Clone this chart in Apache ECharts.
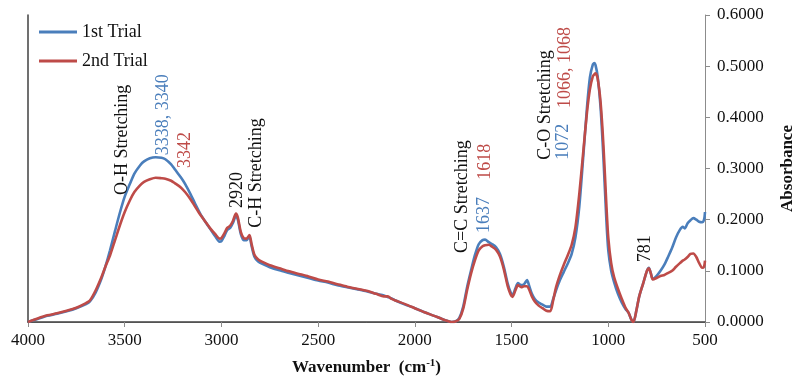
<!DOCTYPE html>
<html>
<head>
<meta charset="utf-8">
<script src="https://cdn.jsdelivr.net/npm/echarts@6/dist/echarts.min.js"></script>
<style>
  html, body { margin: 0; padding: 0; background: #ffffff; }
  #chart { width: 795px; height: 379px; }
</style>
</head>
<body>
<div id="chart"></div>
<script>
// FTIR absorbance spectra of two trials (wavenumber in cm-1)
const wavenumbers = [
  4000, 3950, 3900, 3850, 3800, 3750, 3700, 3680, 3650, 3620, 3600, 3576, 3550, 3524, 3500,
  3473, 3450, 3421, 3400, 3370, 3340, 3310, 3290, 3260, 3240, 3210, 3188, 3160, 3137, 3110,
  3085, 3060, 3033, 3010, 3000, 2985, 2970, 2955, 2940, 2925, 2915, 2900, 2885, 2870, 2855,
  2845, 2830, 2810, 2780, 2750, 2700, 2650, 2600, 2550, 2500, 2450, 2400, 2350, 2300, 2250,
  2200, 2160, 2140, 2120, 2100, 2050, 2000, 1950, 1900, 1860, 1830, 1810, 1790, 1770, 1750,
  1730, 1710, 1690, 1670, 1650, 1637, 1618, 1600, 1580, 1560, 1540, 1520, 1505, 1495, 1480,
  1467, 1450, 1435, 1420, 1410, 1395, 1380, 1360, 1340, 1320, 1300, 1285, 1270, 1250, 1230,
  1210, 1190, 1170, 1150, 1130, 1110, 1095, 1080, 1072, 1066, 1055, 1040, 1025, 1010, 1000,
  985, 970, 950, 930, 910, 895, 880, 870, 855, 840, 820, 800, 790, 780, 770,
  750, 730, 710, 690, 670, 650, 630, 615, 605, 590, 575, 560, 545, 530, 515,
  505, 500
];

const trial1 = [
  0.000, 0.006, 0.012, 0.016, 0.021, 0.027, 0.035, 0.040, 0.058, 0.085, 0.108, 0.140, 0.178, 0.215, 0.245,
  0.270, 0.290, 0.306, 0.314, 0.320, 0.322, 0.321, 0.318, 0.308, 0.298, 0.283, 0.270, 0.250, 0.232, 0.212,
  0.197, 0.183, 0.168, 0.157, 0.158, 0.168, 0.180, 0.184, 0.194, 0.208, 0.200, 0.172, 0.160, 0.160, 0.167,
  0.150, 0.128, 0.118, 0.112, 0.107, 0.101, 0.096, 0.091, 0.086, 0.081, 0.077, 0.072, 0.068, 0.064, 0.060,
  0.055, 0.052, 0.049, 0.046, 0.042, 0.034, 0.027, 0.019, 0.012, 0.006, 0.002, 0.000, 0.001, 0.008, 0.030,
  0.068, 0.100, 0.130, 0.152, 0.160, 0.161, 0.156, 0.152, 0.146, 0.133, 0.108, 0.075, 0.058, 0.052, 0.066,
  0.076, 0.072, 0.074, 0.082, 0.072, 0.055, 0.045, 0.038, 0.034, 0.030, 0.030, 0.045, 0.062, 0.082, 0.098,
  0.114, 0.132, 0.165, 0.225, 0.320, 0.420, 0.478, 0.503, 0.506, 0.502, 0.480, 0.420, 0.320, 0.200, 0.140,
  0.100, 0.078, 0.055, 0.038, 0.025, 0.018, 0.004, 0.000, 0.022, 0.050, 0.075, 0.100, 0.106, 0.095, 0.084,
  0.090, 0.100, 0.112, 0.128, 0.145, 0.165, 0.180, 0.186, 0.183, 0.193, 0.199, 0.203, 0.200, 0.196, 0.195,
  0.200, 0.215
];

const trial2 = [
  0.000, 0.007, 0.013, 0.017, 0.022, 0.028, 0.037, 0.042, 0.062, 0.088, 0.108, 0.130, 0.160, 0.190, 0.215,
  0.238, 0.254, 0.267, 0.274, 0.279, 0.282, 0.281, 0.280, 0.276, 0.271, 0.263, 0.254, 0.240, 0.226, 0.210,
  0.197, 0.184, 0.172, 0.163, 0.164, 0.173, 0.184, 0.188, 0.198, 0.212, 0.204, 0.176, 0.164, 0.163, 0.170,
  0.154, 0.132, 0.122, 0.116, 0.111, 0.105, 0.099, 0.094, 0.089, 0.083, 0.079, 0.074, 0.069, 0.065, 0.061,
  0.055, 0.050, 0.050, 0.045, 0.042, 0.035, 0.027, 0.019, 0.012, 0.006, 0.002, 0.000, 0.001, 0.006, 0.026,
  0.062, 0.094, 0.120, 0.140, 0.148, 0.150, 0.151, 0.147, 0.141, 0.128, 0.103, 0.070, 0.054, 0.049, 0.062,
  0.072, 0.068, 0.070, 0.070, 0.064, 0.050, 0.040, 0.032, 0.027, 0.022, 0.021, 0.042, 0.068, 0.092, 0.112,
  0.130, 0.150, 0.185, 0.250, 0.330, 0.410, 0.455, 0.480, 0.484, 0.486, 0.476, 0.430, 0.345, 0.230, 0.165,
  0.115, 0.088, 0.065, 0.045, 0.027, 0.018, 0.004, 0.000, 0.022, 0.050, 0.075, 0.100, 0.105, 0.095, 0.083,
  0.086, 0.090, 0.092, 0.096, 0.100, 0.108, 0.115, 0.120, 0.122, 0.127, 0.133, 0.134, 0.127, 0.115, 0.106,
  0.108, 0.120
];

const seriesNames = ['1st Trial', '2nd Trial'];

// Band assignments written beside the peaks; trial 0 = general, 1 = first, 2 = second
const noteTexts = ['O-H Stretching', '3338, 3340', '3342', '2920', 'C-H Stretching',
  'C=C Stretching', '1637', '1618', 'C-O Stretching', '1072', '1066, 1068', '781'];
const noteTrial = [0, 1, 2, 0, 0, 0, 1, 2, 0, 1, 2, 0];
// where each rotated note starts, in [wavenumber, absorbance]
const noteAnchors = [
  [3514, 0.248], [3302, 0.326], [3188, 0.301], [2920, 0.223], [2821, 0.184],
  [1756, 0.135], [1643, 0.174], [1637, 0.278], [1327, 0.317], [1234, 0.317],
  [1224, 0.418], [810, 0.117]
];

const FONT = 'Liberation Serif';
const BLUE = '#4A7EBB';
const RED = '#BE4B48';
const trialColors = ['#111111', BLUE, RED];

const chart = echarts.init(document.getElementById('chart'), null, { renderer: 'canvas' });

function pairs(values) {
  return wavenumbers.map((w, i) => [w, values[i]]);
}

const option = {
  animation: false,
  backgroundColor: '#ffffff',
  grid: { left: 28, right: 90, top: 15, bottom: 57, containLabel: false, outerBoundsMode: 'none' },
  legend: {
    orient: 'vertical',
    left: 34,
    top: 18,
    padding: 5,
    itemWidth: 38,
    itemHeight: 3,
    itemGap: 11,
    itemTextGap: 2,
    icon: 'rect',
    textStyle: { fontFamily: FONT, fontSize: 18, color: '#111', lineHeight: 18 },
    data: seriesNames
  },
  xAxis: [
    {
      type: 'value',
      inverse: true,
      min: 500,
      max: 4000,
      interval: 500,
      position: 'bottom',
      axisLine: { show: true, lineStyle: { color: '#8c8c8c', width: 1 } },
      axisTick: { show: true, inside: false, length: 5, lineStyle: { color: '#8c8c8c' } },
      axisLabel: { fontFamily: FONT, fontSize: 17, color: '#111', margin: 10,
        formatter: v => String(v) },
      splitLine: { show: false },
      name: '{b|Wavenumber  (cm}{s|-1}{b|)}',
      nameLocation: 'middle',
      nameGap: 36,
      nameTextStyle: {
        rich: {
          b: { fontFamily: FONT, fontSize: 17, fontWeight: 'bold', color: '#111' },
          s: { fontFamily: FONT, fontSize: 11, fontWeight: 'bold', color: '#111', verticalAlign: 'top', padding: [0, 0, 8, 0] }
        }
      }
    },
    {
      type: 'value',
      inverse: true,
      min: 500,
      max: 4000,
      position: 'top',
      axisLine: { show: true, lineStyle: { color: '#404040', width: 1.5 } },
      axisTick: { show: false },
      axisLabel: { show: false },
      splitLine: { show: false }
    }
  ],
  yAxis: [
    {
      type: 'value',
      position: 'right',
      min: 0,
      max: 0.6,
      interval: 0.1,
      axisLine: { show: true, lineStyle: { color: '#8c8c8c', width: 1 } },
      axisTick: { show: true, inside: false, length: 5, lineStyle: { color: '#8c8c8c' } },
      axisLabel: { fontFamily: FONT, fontSize: 17, color: '#111', margin: 12,
        formatter: v => v.toFixed(4) },
      splitLine: { show: false },
      name: 'Absorbance',
      nameLocation: 'middle',
      nameRotate: 90,
      nameGap: 74,
      nameTextStyle: { fontFamily: FONT, fontSize: 17, fontWeight: 'bold', color: '#111' }
    },
    {
      type: 'value',
      position: 'left',
      min: 0,
      max: 0.6,
      axisLine: { show: true, lineStyle: { color: '#404040', width: 1.5 } },
      axisTick: { show: false },
      axisLabel: { show: false },
      splitLine: { show: false }
    }
  ],
  series: [
    {
      name: seriesNames[0],
      type: 'line',
      xAxisIndex: 0,
      yAxisIndex: 0,
      data: pairs(trial1),
      showSymbol: false,
      smooth: 0.25,
      lineStyle: { color: BLUE, width: 2.6 },
      itemStyle: { color: BLUE },
      z: 3
    },
    {
      name: seriesNames[1],
      type: 'line',
      xAxisIndex: 0,
      yAxisIndex: 0,
      data: pairs(trial2),
      showSymbol: false,
      smooth: 0.25,
      lineStyle: { color: RED, width: 2.6 },
      itemStyle: { color: RED },
      z: 4
    }
  ]
};

chart.setOption(option);

// Rotated peak notes, placed through the axes' own coordinate system
const notes = noteTexts.map((t, i) => {
  const p = chart.convertToPixel({ xAxisIndex: 0, yAxisIndex: 0 }, noteAnchors[i]);
  return {
    type: 'text',
    x: p[0],
    y: p[1],
    rotation: Math.PI / 2,
    z: 10,
    style: {
      text: t,
      fontFamily: FONT,
      fontSize: 18,
      fill: trialColors[noteTrial[i]],
      align: 'left',
      verticalAlign: 'middle'
    }
  };
});
chart.setOption({ graphic: notes });
</script>
</body>
</html>
